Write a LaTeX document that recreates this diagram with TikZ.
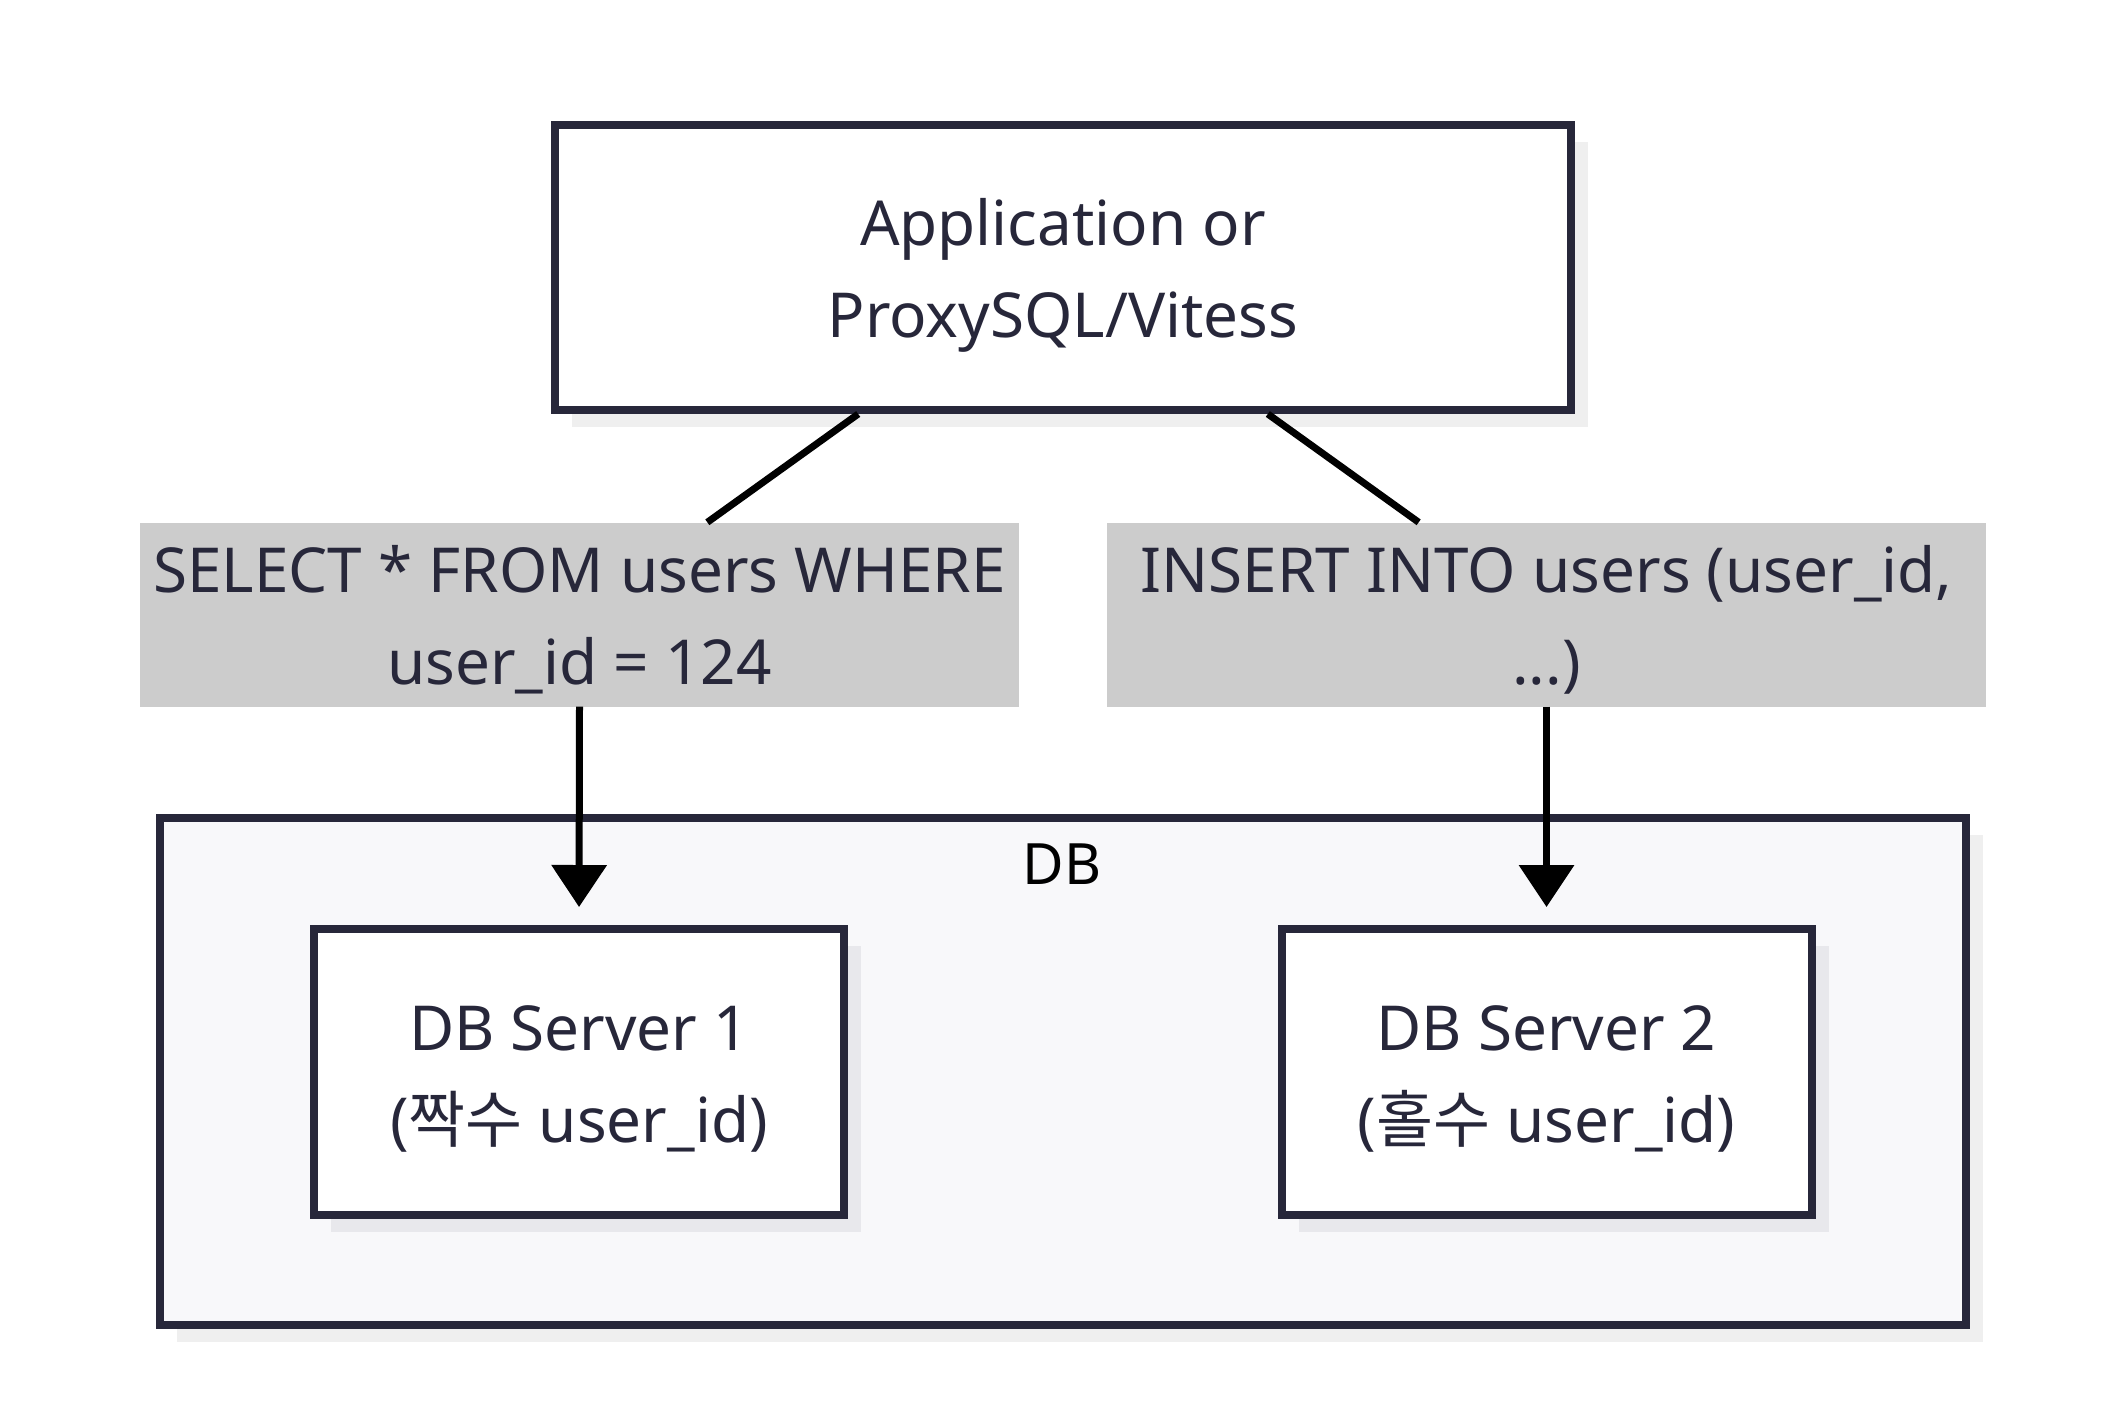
\documentclass[tikz,border=0pt]{standalone}
\usepackage{fontspec}
\setmainfont{Noto Sans}
\newfontfamily\kr{Noto Sans CJK KR}
\usetikzlibrary{shadows,arrows.meta,calc}
\definecolor{ink}{HTML}{27273A}
\definecolor{lblbg}{HTML}{CCCCCC}
\definecolor{clfill}{HTML}{F8F8FA}
\definecolor{shA}{HTML}{EFEFEF}
\definecolor{shB}{HTML}{E8E8EC}
\newcommand{\tstr}{\rule{0pt}{70pt}}
\newcommand{\bstr}{\rule[-22pt]{0pt}{0pt}}
\begin{document}
\begin{tikzpicture}[x=1pt,y=-1pt,
  basefont/.style={font=\fontsize{62}{92}\selectfont},
  boxbase/.style={draw=ink, line width=8pt, fill=white, inner sep=0pt, text=ink, align=center, basefont},
  appbox/.style={boxbase, minimum width=1016pt, minimum height=285pt,
    drop shadow={shadow xshift=17pt, shadow yshift=-17pt, opacity=1, fill=shA}},
  srvbox/.style={boxbase, minimum width=530pt, minimum height=286pt,
    drop shadow={shadow xshift=17pt, shadow yshift=-17pt, opacity=1, fill=shB}},
  clbox/.style={draw=ink, line width=8pt, fill=clfill, inner sep=0pt, minimum width=1806pt, minimum height=507pt,
    drop shadow={shadow xshift=17pt, shadow yshift=-17pt, opacity=1, fill=shA}},
  lblbox/.style={fill=lblbg, inner sep=0pt, minimum width=879pt, minimum height=183pt, text=ink, align=center, basefont},
  edgeline/.style={draw=black, line width=7pt},
  arrowline/.style={draw=black, line width=7pt, -{Triangle[width=54pt,length=42pt]}, shorten >=18pt},
]
\useasboundingbox (0,0) rectangle (2114,1416);
\fill[white] (0,0) rectangle (2114,1416);

\node[clbox] (db) at (1063,1071.5) {};
\node[font=\fontsize{57}{60}\selectfont, text=black] (dblabel) at (1062,864) {DB};
\node[srvbox] (s1) at (579,1072) {\tstr DB Server 1\\({\kr 짝수} user\_id)\bstr};
\node[srvbox] (s2) at (1546.5,1072) {\tstr DB Server 2\\({\kr 홀수} user\_id)\bstr};

\node[appbox] (app) at (1063,267.5) {\tstr Application or\\ProxySQL/Vitess\bstr};

\node[lblbox] (l1) at (579.5,614.5) {\tstr SELECT * FROM users WHERE\\user\_id = 124\bstr};
\node[lblbox] (l2) at (1546.5,614.5) {\tstr INSERT INTO users (user\_id,\\...)\bstr};

\coordinate (a1) at ($(app.south west)!0.30!(app.south east)$);
\coordinate (a2) at ($(app.south west)!0.70!(app.south east)$);

\draw[edgeline] (a1) -- (l1);
\draw[edgeline] (a2) -- (l2);
\draw[arrowline] (l1.south) -- (s1.north);
\draw[arrowline] (l2.south) -- (s2.north);
\end{tikzpicture}
\end{document}
